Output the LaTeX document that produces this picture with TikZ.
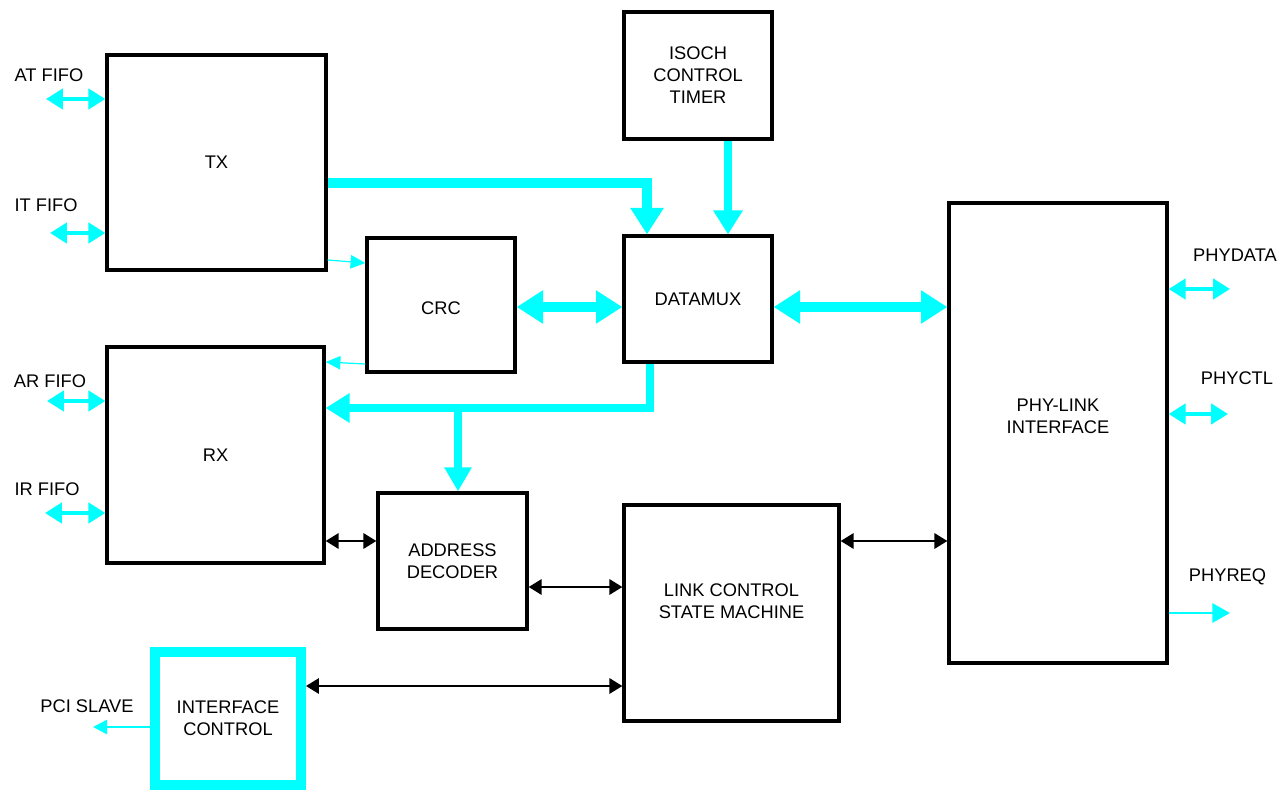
\documentclass[tikz,border=0pt]{standalone}
\usepackage{fontspec}
\setmainfont{Liberation Sans}
\usetikzlibrary{arrows.meta}
\definecolor{buscyan}{HTML}{00FFFF}
\tikzset
    {   block/.style =
        {   draw
        ,   line width = 1.9pt
        ,   inner sep = 0pt
        ,   align = center
        }
    ,   bustip/.tip = {Triangle[length=15pt,width=18pt]}
    ,   subtip/.tip = {Triangle[length=13.6pt,width=16pt]}
    ,   fifotip/.tip = {Triangle[length=9.6pt,width=11.4pt]}
    ,   thintip/.tip = {Triangle[length=8.4pt,width=7.6pt]}
    ,   ctltip/.tip = {Triangle[length=7.4pt,width=8.8pt]}
    ,   bus/.style = {draw = buscyan, line width = 5.8pt}
    ,   subbus/.style = {draw = buscyan, line width = 4.3pt, -subtip}
    ,   fifo/.style = {draw = buscyan, line width = 2.3pt, fifotip-fifotip}
    ,   thinbus/.style = {draw = buscyan, line width = 0.7pt, -thintip}
    ,   ctl/.style = {draw = black, line width = 1.1pt, ctltip-ctltip}
    }
\begin{document}
\begin{tikzpicture}
        [   x = 0.02cm
        ,   y = -0.02cm
        ,   font = \fontsize{10.4}{12.5}\selectfont
        ]
        \useasboundingbox (0,0) rectangle (1280,790);
        % blocks
        \node[block, minimum width=4.38cm, minimum height=4.30cm] (tx) at (216.5,162.5) {TX};
        \node[block, minimum width=4.34cm, minimum height=4.32cm] (rx) at (215.5,455) {RX};
        \node[block, minimum width=2.96cm, minimum height=2.68cm,
            label={[yshift=-0.06cm]center:CRC}] (crc) at (441,305) {};
        \node[block, minimum width=2.96cm, minimum height=2.52cm] (datamux) at (698,299) {DATAMUX};
        \node[block, minimum width=2.96cm, minimum height=2.54cm] (isoch) at (698,75.5) {ISOCH\\CONTROL\\TIMER};
        \node[block, minimum width=2.98cm, minimum height=2.72cm] (addr) at (452.5,561) {ADDRESS\\DECODER};
        \node[block, minimum width=4.30cm, minimum height=4.32cm,
            label={[yshift=0.24cm, align=center]center:{LINK CONTROL\\STATE MACHINE}}] (link) at (731.5,613) {};
        \node[block, minimum width=4.36cm, minimum height=9.20cm,
            label={[yshift=0.34cm, align=center]center:{PHY-LINK\\INTERFACE}}] (phy) at (1058,433) {};
        \node[block, draw=buscyan, line width=5.7pt, minimum width=2.92cm, minimum height=2.66cm] (ifc) at (228,718.5) {INTERFACE\\CONTROL};

        % outside signals
        \coordinate (atfifo) at (46,99);
        \coordinate (itfifo) at (50,233);
        \coordinate (arfifo) at (47,401);
        \coordinate (irfifo) at (45,513);
        \coordinate (phydata) at (1230,289);
        \coordinate (phyctl) at (1228,414);
        \coordinate (phyreq) at (1230,613);
        \coordinate (pcislave) at (93,727);
        \node[anchor=base] (atlbl) at (49,82) {AT FIFO};
        \node[anchor=base] (itlbl) at (46,212) {IT FIFO};
        \node[anchor=base] (arlbl) at (50,387) {AR FIFO};
        \node[anchor=base] (irlbl) at (47,495) {IR FIFO};
        \node[anchor=base] (datalbl) at (1235,262) {PHYDATA};
        \node[anchor=base] (ctllbl) at (1237,384) {PHYCTL};
        \node[anchor=base] (reqlbl) at (1227.5,581) {PHYREQ};
        \node[anchor=base] (pcilbl) at (87,712) {PCI SLAVE};

        \draw[fifo] (atfifo) -- (atfifo -| tx.west);
        \draw[fifo] (itfifo) -- (itfifo -| tx.west);
        \draw[fifo] (arfifo) -- (arfifo -| rx.west);
        \draw[fifo] (irfifo) -- (irfifo -| rx.west);
        \draw[fifo] (phy.east |- phydata) -- (phydata);
        \draw[fifo] (phy.east |- phyctl) -- (phyctl);
        \draw[fifo, line width=1.7pt, -{Triangle[length=10pt,width=10.8pt]}] (phy.east |- phyreq) -- (phyreq);
        \draw[thinbus, line width=1.4pt, -{Triangle[length=8pt,width=8pt]}] (ifc.west |- pcislave) -- (pcislave);

        % data paths
        \draw[bus, -bustip] (tx.east |- 0,183) -| (647,0 |- datamux.north);
        \draw[subbus] (isoch.south -| 728,0) -- (datamux.north -| 728,0);
        \draw[bus, bustip-bustip] (crc.east |- 0,307) -- (datamux.west |- 0,307);
        \draw[bus, bustip-bustip] (datamux.east |- 0,307) -- (phy.west |- 0,307);
        \draw[subbus] (datamux.south -| 650,0) |- (rx.east |- 0,408);
        \coordinate (tap) at (458,408);
        \draw[subbus, -{Triangle[length=13.6pt,width=14.7pt]}] (tap) -- (addr.north -| tap);
        \draw[thinbus] (tx.east |- 0,260) -- (crc.west |- 0,263);
        \draw[thinbus] (crc.west |- 0,364) -- (rx.east |- 0,362);

        % control paths
        \draw[ctl] (rx.east |- 0,541) -- (addr.west |- 0,541);
        \draw[ctl] (addr.east |- 0,587) -- (link.west |- 0,587);
        \draw[ctl] (ifc.east |- 0,686) -- (link.west |- 0,686);
        \draw[ctl] (link.east |- 0,541) -- (phy.west |- 0,541);
    \end{tikzpicture}
\end{document}
